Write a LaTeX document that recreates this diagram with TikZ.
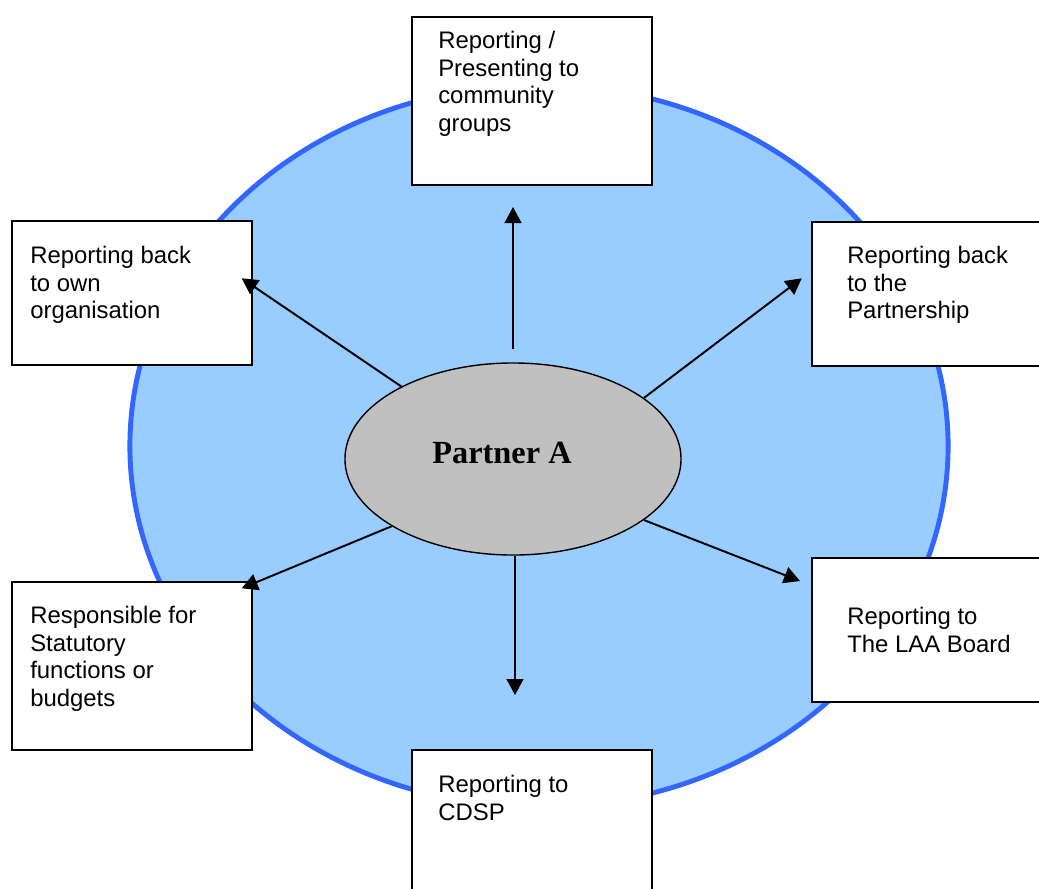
\documentclass[tikz,border=0pt]{standalone}
\usepackage{fontspec}
\setmainfont{Liberation Sans}
\newfontfamily\partnerfont{Liberation Serif}
\usetikzlibrary{shapes.geometric,arrows.meta}
\definecolor{discfill}{RGB}{153,204,255}
\definecolor{discline}{RGB}{51,102,255}
\definecolor{hubgray}{RGB}{192,192,192}

\begin{document}
\begin{tikzpicture}[
  x=0.025cm, y=-0.025cm,
  disc/.style={ellipse, draw=discline, line width=3.5pt, fill=discfill, minimum width=20.45cm, minimum height=18.05cm, inner sep=0},
  hub/.style={ellipse, draw=black, line width=1pt, fill=hubgray, minimum width=8.4cm, minimum height=4.8cm, inner sep=0},
  hubtxt/.style={inner sep=0, font=\partnerfont\bfseries\fontsize{23}{26}\selectfont},
  box/.style={rectangle, draw=black, line width=1.3pt, fill=white, anchor=north west, minimum width=6cm, inner sep=0},
  txt/.style={anchor=north west, inner sep=0, align=left, font=\fontsize{17}{19.6}\selectfont},
  link/.style={-{Triangle[length=0.4cm, width=0.42cm]}, line width=1.4pt}
]
  \clip (0,0) rectangle (1039,888);

  % background disc and the partner in the middle
  \node[disc] (disc) at (539,446) {};
  \node[hub] (hub) at (513,459) {};
  \node[hubtxt] (hubText) at (502,453) {Partner A};

  % surrounding boxes
  \node[box, minimum height=4.2cm] (presentBox) at (411,16) {};
  \node[box, minimum height=3.6cm] (ownBox) at (11,220) {};
  \node[box, minimum height=3.6cm] (partnershipBox) at (811,221) {};
  \node[box, minimum height=4.2cm] (statutoryBox) at (11,581) {};
  \node[box, minimum height=3.6cm] (laaBox) at (811,557) {};
  \node[box, minimum height=4.2cm] (cdspBox) at (411,749) {};

  \node[txt] (presentText) at (438,31) {Reporting /\\Presenting to\\community\\groups};
  \node[txt] (ownText) at (30,246) {Reporting back\\to own\\organisation};
  \node[txt] (partnershipText) at (847,246) {Reporting back\\to the\\Partnership};
  \node[txt] (statutoryText) at (30,606) {Responsible for\\Statutory\\functions or\\budgets};
  \node[txt] (laaText) at (847,607) {Reporting to\\The LAA Board};
  \node[txt] (cdspText) at (438,775) {Reporting to\\CDSP};

  % arrow ends
  \coordinate (tipN) at (513,207);
  \coordinate (tipNW) at (241.7,278.3);
  \coordinate (tipNE) at (801.7,278.3);
  \coordinate (tipSE) at (800,581);
  \coordinate (tipSW) at (241.7,588.3);
  \coordinate (tipS) at (515,695);

  \draw[link, shorten <=0.325cm] (hub.north) -- (tipN);
  \foreach \a/\t in {147/tipNW, 25.8/tipNE, 335.2/tipSE, 209.5/tipSW}
    \draw[link] (hub.\a) -- (\t);
  \draw[link] (hub.south -| tipS) -- (tipS);
\end{tikzpicture}
\end{document}
